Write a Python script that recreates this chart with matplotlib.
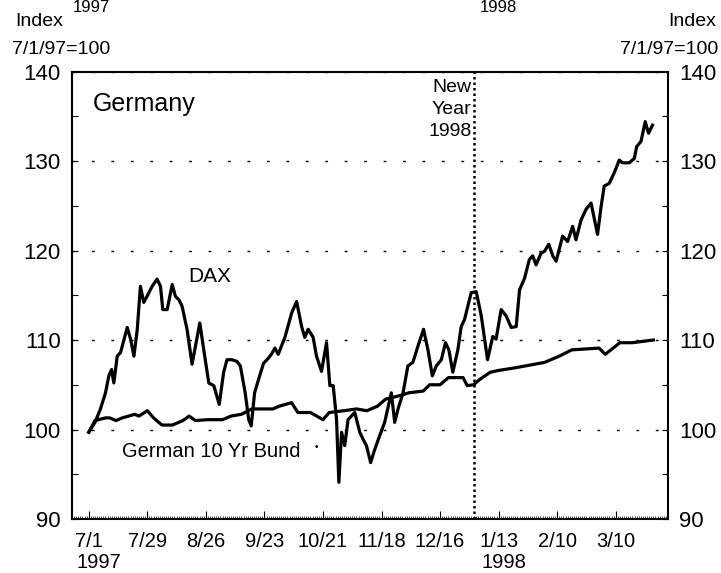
import matplotlib
matplotlib.use('Agg')
import matplotlib.pyplot as plt
import matplotlib.dates as mdates
import matplotlib.transforms as mtransforms
import numpy as np
import pandas as pd

plt.rcParams['font.family'] = ['Liberation Sans', 'DejaVu Sans']

start = pd.Timestamp('1997-07-01')

# days after 7/1/1997, index level (7/1/97 = 100)
dax_days = [0, 3, 5.6, 8, 9.6, 10.9, 12, 13.6, 15.2, 18.4, 20, 21.6, 23.2, 24.7, 26.3,
            27.9, 30.3, 32.7, 34.3, 35.4, 37.5, 39.9, 41.4, 43.1, 44.6, 47, 49.4, 51,
            53.1, 55, 57.4, 59.8, 62.4, 64.5, 66.1, 68.5, 70.9, 72.5, 74.8, 76.5, 77.7,
            79.3, 81.2, 83.6, 86, 87.6, 89, 90.6, 93.8, 97, 99.4, 101.8, 103.3, 104.9,
            107.3, 108.9, 111.3, 113.7, 115.3, 116.9, 118.5, 119.6, 120.9, 122.4, 124,
            125.6, 127.2, 129.6, 131.2, 132.8, 134.8, 136.8, 139.1, 141.5, 144.7, 146.3,
            147.9, 150.3, 152.6, 155, 157.4, 160.1, 162.2, 164.3, 166.2, 168.6, 170.6,
            172.2, 174.1, 176.5, 178.1, 179.7, 181.3, 182.9, 185.3, 187.7, 190.7, 193.2,
            194.8, 197.2, 199.6, 202, 204.4, 206, 208.4, 210.7, 212.3, 213.9, 216.3,
            217.9, 220, 221.9, 223.5, 226.6, 229, 231.4, 233, 235.4, 237.8, 240.2, 243.3,
            245, 246.5, 248.9, 251.3, 253.7, 255.3, 258.5, 260.9, 262, 264.1, 266.1,
            267.7, 269.6]
dax = [99.7, 100.8, 102.3, 104.1, 106.0, 106.7, 105.2, 108.2, 108.6, 111.4, 110.1, 108.2,
       111.2, 116.0, 114.2, 114.9, 116.0, 116.8, 116.0, 113.4, 113.4, 116.2, 114.9, 114.5,
       113.8, 111.2, 107.3, 109.3, 111.9, 108.9, 105.2, 104.9, 102.8, 106.4, 107.8, 107.8,
       107.6, 107.1, 104.1, 101.1, 100.4, 104.1, 105.6, 107.4, 108.0, 108.5, 109.1, 108.4,
       110.3, 113.0, 114.3, 111.5, 110.3, 111.2, 110.3, 108.2, 106.5, 109.7, 104.9, 104.9,
       101.1, 94.1, 99.7, 98.2, 101.1, 101.5, 101.9, 99.7, 98.9, 98.2, 96.3, 97.8, 99.3,
       100.8, 104.1, 100.8, 102.3, 104.1, 107.1, 107.5, 109.3, 111.2, 108.9, 106.0, 107.1,
       107.8, 109.7, 108.9, 106.4, 108.9, 111.5, 112.3, 113.8, 115.3, 115.4, 112.7, 107.8,
       110.4, 110.1, 113.4, 112.7, 111.4, 111.5, 115.6, 116.9, 119.0, 119.4, 118.4, 119.7,
       119.9, 120.7, 119.4, 118.8, 121.6, 121.0, 122.7, 121.2, 123.4, 124.6, 125.3, 121.8,
       124.9, 127.2, 127.5, 128.7, 130.1, 129.8, 129.8, 130.3, 131.6, 132.2, 134.4, 133.1,
       134.0]

bund_days = [0, 3, 8, 10, 13, 16, 22, 24, 28, 31, 35, 40, 45, 48, 51, 57, 64, 68, 73, 78,
             84, 88, 91, 97, 100, 106, 112, 115, 122, 128, 133, 138, 142, 149, 153, 160,
             163, 168, 172, 179, 181, 184, 187, 192, 196, 204, 211, 218, 225, 231, 244,
             247, 254, 260, 270]
bund = [99.7, 101.0, 101.3, 101.3, 101.0, 101.3, 101.7, 101.5, 102.1, 101.3, 100.5, 100.5,
        101.0, 101.5, 101.0, 101.1, 101.1, 101.5, 101.7, 102.3, 102.3, 102.3, 102.6, 103.0,
        101.9, 101.9, 101.1, 101.9, 102.1, 102.3, 102.1, 102.6, 103.4, 103.8, 104.1, 104.3,
        105.0, 105.0, 105.8, 105.8, 104.9, 105.0, 105.6, 106.4, 106.6, 106.9, 107.2, 107.5,
        108.2, 108.9, 109.1, 108.4, 109.7, 109.7, 110.0]

tick_dates = ['1997-07-01', '1997-07-29', '1997-08-26', '1997-09-23', '1997-10-21',
              '1997-11-18', '1997-12-16', '1998-01-13', '1998-02-10', '1998-03-10']
tick_labels = ['7/1', '7/29', '8/26', '9/23', '10/21', '11/18', '12/16', '1/13', '2/10', '3/10']

dax_dates = start + pd.to_timedelta(dax_days, unit='D')
bund_dates = start + pd.to_timedelta(bund_days, unit='D')

fig = plt.figure(figsize=(7.21, 5.73), dpi=100)
ax = fig.add_axes([0.0999, 0.0942, 0.8266, 0.781])

ax.plot(dax_dates, dax, color='black', lw=2.3, solid_joinstyle='round')
ax.plot(bund_dates, bund, color='black', lw=2.3, solid_joinstyle='round')

ax.axvline(pd.Timestamp('1998-01-01'), color='black', lw=1.8, ls=(0, (1, 1.2)))

ax.set_xlim(pd.Timestamp('1997-06-23'), pd.Timestamp('1998-04-04'))
ax.set_ylim(90, 140)
ax.set_yticks([90, 100, 110, 120, 130, 140])
ax.set_yticks([95, 105, 115, 125, 135], minor=True)
ax.grid(axis='y', which='major', color='black', lw=1.0, ls=(0, (2, 12)))

ax.set_xticks(pd.to_datetime(tick_dates))
ax.set_xticklabels(tick_labels)
ax.xaxis.set_minor_locator(mdates.DayLocator())
ax.tick_params(axis='x', which='major', direction='in', length=6, width=0.8,
               labelsize=14.5, pad=9)
ax.tick_params(axis='x', which='minor', direction='in', length=2.5, width=0.5)
ax.tick_params(axis='y', which='both', direction='in', length=4, width=0.8,
               labelsize=16, left=True, right=True, labelleft=True, labelright=True,
               pad=8)

for s in ax.spines.values():
    s.set_linewidth(1.5)

# year labels under the date ticks
trans = mtransforms.blended_transform_factory(ax.transData, ax.transAxes)
ax.text(pd.Timestamp('1997-06-25'), -0.075, '1997', transform=trans, ha='left', va='top',
        fontsize=14.5)
ax.text(pd.Timestamp('1998-01-05'), -0.075, '1998', transform=trans, ha='left', va='top',
        fontsize=14.5)

ax.text(0.035, 0.928, 'Germany', transform=ax.transAxes, fontsize=18, va='center')
ax.text(pd.Timestamp('1997-08-28'), 117.1, 'DAX', fontsize=15, ha='center', va='center')
ax.text(pd.Timestamp('1997-07-17'), 97.6, 'German 10 Yr Bund', fontsize=14.5,
        ha='left', va='center')
ax.text(pd.Timestamp('1997-10-18'), 98.0, '•', fontsize=7, ha='center', va='center')
ax.text(pd.Timestamp('1997-12-31'), 139.2, 'New\nYear\n1998', fontsize=14,
        ha='right', va='top', linespacing=1.4, multialignment='right')

# axis captions
fig.text(15 / 721, 1 - 22 / 573, 'Index', fontsize=14, ha='left', va='center')
fig.text(12 / 721, 1 - 49 / 573, '7/1/97=100', fontsize=14, ha='left', va='center')
fig.text(716 / 721, 1 - 22 / 573, 'Index', fontsize=14, ha='right', va='center')
fig.text(718 / 721, 1 - 49 / 573, '7/1/97=100', fontsize=14, ha='right', va='center')

# year labels left over from the chart above, at the top edge
fig.text(73 / 721, 1.0, '1997', fontsize=12, ha='left', va='top')
fig.text(480 / 721, 1.0, '1998', fontsize=12, ha='left', va='top')

fig.savefig('out.png', dpi=100)
